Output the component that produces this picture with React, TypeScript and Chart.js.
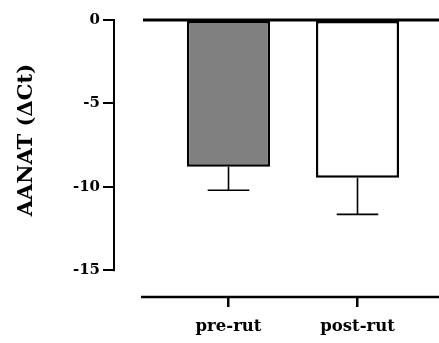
import React, { useEffect, useRef } from "react";
import { Chart, registerables } from "chart.js";

Chart.register(...registerables);

const categories = ["pre-rut", "post-rut"];
const means = [-8.8, -9.45];
const errors = [1.4, 2.2];
const yTicks = [0, -5, -10, -15];
const yMin = -16.6;
const yMax = 0;
const barColors = ["#808080", "#ffffff"];
const yTitle = "AANAT (ΔCt)";

const FONT = "'DejaVu Serif', serif";

const decor = {
  id: "decor",
  afterDatasetsDraw(chart: any) {
    const ctx = chart.ctx;
    const y = chart.scales.y;
    const area = chart.chartArea;
    const meta = chart.getDatasetMeta(0);
    ctx.save();
    ctx.strokeStyle = "#000";
    ctx.fillStyle = "#000";
    // error bars
    meta.data.forEach((bar: any, i: number) => {
      const yStart = y.getPixelForValue(means[i]);
      const yEnd = y.getPixelForValue(means[i] - errors[i]);
      const half = bar.width / 4;
      ctx.lineWidth = 1.6;
      ctx.beginPath();
      ctx.moveTo(bar.x, yStart);
      ctx.lineTo(bar.x, yEnd);
      ctx.moveTo(bar.x - half, yEnd);
      ctx.lineTo(bar.x + half, yEnd);
      ctx.stroke();
    });
    // top line at zero
    const y0 = y.getPixelForValue(0);
    ctx.lineWidth = 3;
    ctx.beginPath();
    ctx.moveTo(area.left - 21, y0);
    ctx.lineTo(chart.width, y0);
    ctx.stroke();
    // x axis baseline
    ctx.lineWidth = 2.5;
    ctx.beginPath();
    ctx.moveTo(area.left - 23, area.bottom);
    ctx.lineTo(chart.width, area.bottom);
    ctx.stroke();
    // y axis line
    const yl = y.getPixelForValue(yTicks[yTicks.length - 1]);
    ctx.lineWidth = 2;
    ctx.beginPath();
    ctx.moveTo(y.right - 1, y0 - 1);
    ctx.lineTo(y.right - 1, yl + 1);
    ctx.stroke();
    // y title
    ctx.font = "bold 21px " + FONT;
    ctx.textAlign = "center";
    ctx.textBaseline = "middle";
    ctx.translate(y.left + 27, (y0 + yl) / 2 - 5);
    ctx.rotate(-Math.PI / 2);
    ctx.fillText(yTitle, 0, 0);
    ctx.restore();
  },
};

export default function App() {
  const ref = useRef<HTMLCanvasElement>(null);
  useEffect(() => {
    if (!ref.current) return;
    const yFont = { family: FONT, weight: "bold" as const, size: 15 };
    const xFont = { family: FONT, weight: "bold" as const, size: 16.5 };
    const chart = new Chart(ref.current, {
      type: "bar",
      data: {
        labels: categories,
        datasets: [
          {
            data: means,
            backgroundColor: barColors,
            borderColor: "#000",
            borderWidth: 2.5,
            borderSkipped: false,
            barPercentage: 0.645,
            categoryPercentage: 1,
          },
        ],
      },
      options: {
        animation: false,
        responsive: false,
        layout: { padding: { left: 0, right: 17, top: 20, bottom: 0 } },
        plugins: { legend: { display: false }, tooltip: { enabled: false } },
        scales: {
          x: {
            type: "category",
            offset: true,
            grid: {
              display: true,
              drawOnChartArea: false,
              offset: false,
              tickLength: 10,
              lineWidth: 2.5,
              color: "#000",
            },
            border: { display: false },
            ticks: { font: xFont, color: "#000", padding: 10 },
            afterFit(s: any) {
              s.height = 46;
            },
          },
          y: {
            type: "linear",
            position: "left",
            weight: 1,
            min: yMin,
            max: yMax,
            afterBuildTicks(s: any) {
              s.ticks = yTicks.map((v) => ({ value: v }));
            },
            grid: {
              drawOnChartArea: false,
              tickLength: 12,
              lineWidth: 2,
              color: "#000",
            },
            border: { display: false },
            ticks: { font: yFont, color: "#000", padding: 3 },
            afterFit(s: any) {
              s.width = 115;
            },
          },
          ySpace: {
            type: "linear",
            position: "left",
            weight: 0,
            display: true,
            grid: { display: false },
            border: { display: false },
            ticks: { display: false },
            afterFit(s: any) {
              s.width = 49;
            },
          },
        },
      } as any,
      plugins: [decor],
    });
    return () => chart.destroy();
  }, []);
  return (
    <div style={{ position: "fixed", left: 0, top: 0, width: 439, height: 343, background: "#fff" }}>
      <canvas ref={ref} width={439} height={343} style={{ display: "block" }} />
    </div>
  );
}
